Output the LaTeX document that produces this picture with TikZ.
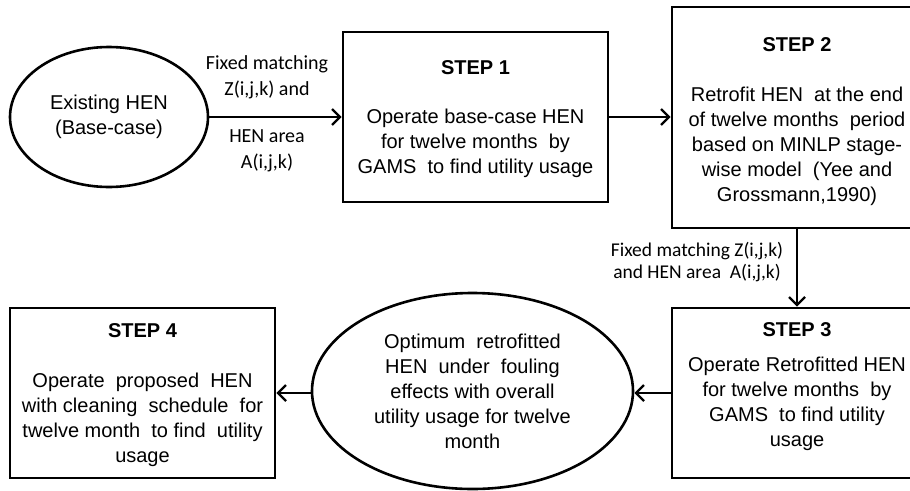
\documentclass[tikz,border=0pt]{standalone}
\usepackage{fontspec}
\setmainfont{Liberation Sans}
\newfontfamily\labelfont{Carlito}
\usetikzlibrary{shapes.geometric,arrows.meta}
\tikzset{
  frame/.style={draw=black, line width=2.6pt, rectangle, inner sep=0pt},
  oval/.style={draw=black, line width=2.6pt, ellipse, inner sep=0pt, align=center,
    font=\fontsize{20}{25}\selectfont},
  boxtext/.style={align=center, inner sep=0pt, font=\fontsize{20}{25}\selectfont},
  lbl/.style={align=center, inner sep=0pt, font=\labelfont\fontsize{20}{26}\selectfont},
  flow/.style={line width=2.6pt, -{Straight Barb[length=8pt,width=16pt,line width=2.4pt]}}
}
\begin{document}
\begin{tikzpicture}[x=1pt,y=-1pt]
\useasboundingbox (0,0) rectangle (910,490);
\clip (0,0) rectangle (910,490);
% shapes
\node[oval, minimum width=198pt, minimum height=140pt] (e1) at (109,117) {Existing HEN\\(Base-case)};
\node[frame, minimum width=265pt, minimum height=170pt] (b1) at (475.5,117) {};
\node[frame, minimum width=250pt, minimum height=221pt] (b2) at (797,117.5) {};
\node[frame, minimum width=250pt, minimum height=170pt] (b3) at (797,393) {};
\node[oval, minimum width=321pt, minimum height=196pt] (e2) at (472.5,391)
  {Optimum \ retrofitted\\HEN \ under \ fouling\\effects with overall\\utility usage for twelve\\month};
\node[frame, minimum width=265pt, minimum height=170pt] (b4) at (142.5,393) {};
% box texts
\node[boxtext] (t1) at (475.5,119) {\textbf{STEP 1}\\[24pt]Operate base-case HEN\\for twelve months \ by\\GAMS \ to find utility usage};
\node[boxtext] (t2) at (797,121.5) {\textbf{STEP 2}\\[25pt]Retrofit HEN \ at the end\\of twelve months \ period\\based on MINLP stage-\\wise model \ (Yee and\\Grossmann,1990)};
\node[boxtext] (t3) at (797,386.5) {\textbf{STEP 3}\\[10pt]Operate Retrofitted HEN\\for twelve months \ by\\GAMS \ to find utility\\usage};
\node[boxtext] (t4) at (142.5,395) {\textbf{STEP 4}\\[25pt]Operate \ proposed \ HEN\\with cleaning \ schedule \ for\\twelve month \ to find \ utility\\usage};
% labels
\node[lbl] (l1) at (267,77.5) {Fixed matching\\Z(i,j,k) and};
\node[lbl] (l2) at (267,150.5) {HEN area\\A(i,j,k)};
\node[lbl, font=\labelfont\fontsize{19.5}{22}\selectfont] (l3) at (697,262.5) {Fixed matching Z(i,j,k)\\and HEN area \ A(i,j,k)};
% connectors
\draw[flow] (e1.east) -- (b1.west);
\draw[flow] (b1.east) -- (b2.west |- b1.east);
\draw[flow] (b2.south) -- (b3.north);
\draw[flow] (b3.west) -- (e2.east |- b3.west);
\draw[flow] (e2.west |- b3.west) -- (b4.east);
\end{tikzpicture}
\end{document}
